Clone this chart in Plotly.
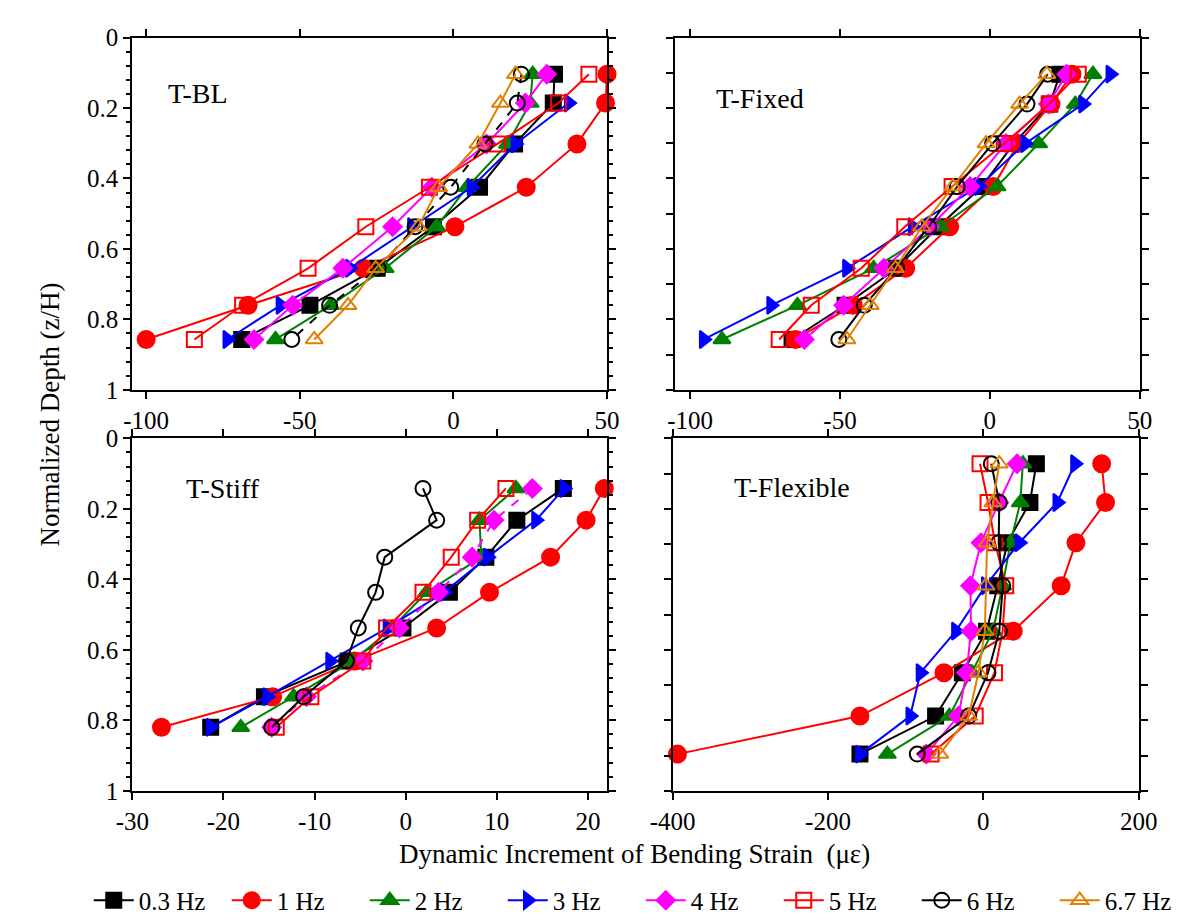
import plotly.graph_objects as go

# ---------------- data ----------------
freqs = ["0.3 Hz", "1 Hz", "2 Hz", "3 Hz", "4 Hz", "5 Hz", "6 Hz", "6.7 Hz"]

depth_bl = [0.104, 0.186, 0.302, 0.425, 0.537, 0.655, 0.760, 0.857]
depth_fixed = [0.104, 0.189, 0.301, 0.423, 0.537, 0.655, 0.760, 0.857]
depth_stiff = [0.142, 0.232, 0.337, 0.437, 0.538, 0.632, 0.733, 0.820]
depth_flex = [0.072, 0.182, 0.296, 0.418, 0.547, 0.665, 0.788, 0.896]

# T-BL
bl_03 = [32.9, 32.5, 19.9, 8.5, -6.5, -24.8, -46.7, -68.9]
bl_1 = [50.0, 49.5, 40.2, 23.7, 0.5, -29.3, -66.8, -100.0]
bl_2 = [25.8, 25.0, 17.6, 4.5, -5.5, -22.2, -40.0, -57.9]
bl_3 = [None, 37.5, 20.2, 5.9, -13.5, -33.7, -56.3, -73.6]
bl_4 = [30.4, 23.4, 10.8, -7.0, -19.8, -36.0, -52.3, -64.9]
bl_5 = [44.1, 34.2, 14.3, -7.8, -28.5, -47.3, -68.6, -84.3]
bl_6 = [22.1, 20.8, 10.3, -0.9, -12.5, -24.5, -40.3, -52.6]
bl_67 = [20.2, 15.3, 8.0, -4.8, -11.4, -25.3, -34.3, -45.3]

# T-Fixed
fx_03 = [23.4, 20.0, 8.0, -2.7, -17.2, -31.1, -48.3, -66.0]
fx_1 = [27.4, 20.4, 9.5, 1.1, -13.4, -28.1, -45.6, -64.9]
fx_2 = [34.4, 28.5, 16.3, 2.4, -16.6, -38.8, -64.2, -89.4]
fx_3 = [40.2, 31.1, 11.8, -3.7, -25.8, -47.7, -73.0, -95.5]
fx_4 = [25.6, 19.5, 5.4, -6.6, -20.0, -35.4, -48.8, -61.9]
fx_5 = [29.5, 19.8, 4.8, -12.6, -28.4, -42.9, -59.6, -70.3]
fx_6 = [19.3, 12.4, 0.9, -10.9, -20.4, -31.1, -41.9, -50.4]
fx_67 = [19.0, 9.9, -1.3, -12.3, -22.7, -31.5, -39.9, -47.7]

# T-Stiff
st_03 = [17.3, 12.2, 8.8, 4.8, -0.3, -6.3, -15.5, -21.4]
st_1 = [21.8, 19.8, 15.9, 9.2, 3.4, -5.6, -14.6, -26.8]
st_2 = [12.1, 8.1, 8.3, 2.3, -1.5, -5.8, -12.3, -18.1]
st_3 = [17.4, 14.3, 9.0, 4.2, -2.0, -8.3, -15.2, -21.4]
st_4 = [13.9, 9.7, 7.3, 3.6, -0.7, -4.7, -10.9, -14.7]
st_5 = [11.0, 7.9, 5.0, 1.9, -2.1, -4.7, -10.4, -14.2]
st_6 = [1.9, 3.4, -2.3, -3.3, -5.2, -6.5, -11.2, -14.7]
st_67 = None

# T-Flexible
fl_03 = [68.2, 59.9, 30.9, 18.5, 4.0, -27.1, -61.5, -158.9]
fl_1 = [152.3, 157.3, 119.2, 100.1, 38.4, -50.7, -158.9, -393.8]
fl_2 = [50.8, 47.5, 35.0, 24.7, 12.3, -14.7, -43.7, -123.6]
fl_3 = [117.9, 95.1, 46.2, 3.0, -35.4, -81.0, -94.2, -158.9]
fl_4 = [43.4, 20.0, -3.1, -16.7, -15.9, -21.7, -32.1, -73.5]
fl_5 = [-4.3, 6.0, 15.0, 28.8, 24.7, 14.3, -10.5, -67.3]
fl_6 = [10.2, 20.5, 19.7, 25.0, 20.5, 6.0, -18.8, -85.1]
fl_67 = [20.5, 12.3, 4.8, 3.2, 1.9, -6.4, -18.8, -56.1]

panels = [
    ("T-BL", depth_bl, [bl_03, bl_1, bl_2, bl_3, bl_4, bl_5, bl_6, bl_67], {6}),
    ("T-Fixed", depth_fixed, [fx_03, fx_1, fx_2, fx_3, fx_4, fx_5, fx_6, fx_67], set()),
    ("T-Stiff", depth_stiff, [st_03, st_1, st_2, st_3, st_4, st_5, st_6, st_67], {4}),
    ("T-Flexible", depth_flex, [fl_03, fl_1, fl_2, fl_3, fl_4, fl_5, fl_6, fl_67], set()),
]

# ---------------- styles ----------------
colors = ["#000000", "#FF0000", "#008000", "#0000FF", "#FF00FF", "#FF0000", "#000000", "#E08000"]
symbols = ["square", "circle", "triangle-up", "triangle-right", "diamond",
           "square-open", "circle-open", "triangle-up-open"]
msizes = [15, 17, 15, 15, 14, 15, 15, 15]

FONT = "Liberation Serif"
W, H = 1197, 921

fig = go.Figure()

axis_names = [("x", "y"), ("x2", "y2"), ("x3", "y3"), ("x4", "y4")]
for p, (label, depth, series, dashed) in enumerate(panels):
    xa, ya = axis_names[p]
    for i, vals in enumerate(series):
        if vals is None:
            continue
        fig.add_trace(go.Scatter(
            x=vals, y=depth, xaxis=xa, yaxis=ya,
            mode="lines+markers", name=freqs[i],
            legendgroup=freqs[i], showlegend=(p == 1),
            cliponaxis=False, connectgaps=False,
            line=dict(color=colors[i], width=2, dash="dash" if i in dashed else "solid"),
            marker=dict(symbol=symbols[i], size=msizes[i], color=colors[i],
                        line=dict(color=colors[i], width=2)),
        ))

# pixel domains
def xdom(a, b):
    return [a / W, b / W]

def ydom(top, bottom):
    return [1 - bottom / H, 1 - top / H]

tickfont = dict(family=FONT, size=25, color="black")

def xaxis_cfg(dom, anchor, rng, vals):
    return dict(domain=xdom(*dom), anchor=anchor, range=rng,
                tickmode="array", tickvals=vals, ticktext=[str(v) for v in vals],
                showline=True, linecolor="black", linewidth=2, mirror="allticks",
                ticks="outside", ticklen=7, tickwidth=1.5, tickcolor="black",
                showgrid=False, zeroline=False, tickfont=tickfont)

def yaxis_cfg(dom, anchor, labels):
    cfg = dict(domain=ydom(*dom), anchor=anchor, range=[1, 0],
               showline=True, linecolor="black", linewidth=2, mirror="allticks",
               ticks="outside", tickwidth=1.5, tickcolor="black",
               showgrid=False, zeroline=False, tickfont=tickfont)
    if labels:
        cfg.update(tickmode="array", tickvals=[0, 0.2, 0.4, 0.6, 0.8, 1],
                   ticktext=["0", "0.2", "0.4", "0.6", "0.8", "1"], ticklen=7,
                   minor=dict(dtick=0.04, ticklen=4, tickwidth=1.5, tickcolor="black",
                              ticks="outside"))
    else:
        cfg.update(dtick=0.1, tick0=0, ticklen=7, showticklabels=False)
    return cfg

fig.update_layout(
    width=W, height=H,
    margin=dict(l=0, r=0, t=0, b=0),
    paper_bgcolor="white", plot_bgcolor="white",
    font=dict(family=FONT, size=25, color="black"),
    xaxis=xaxis_cfg((105, 597), "y", [-104.5, 50], [-100, -50, 0, 50]),
    yaxis=yaxis_cfg((17, 380), "x", True),
    xaxis2=xaxis_cfg((667, 1149), "y2", [-105.2, 50], [-100, -50, 0, 50]),
    yaxis2=yaxis_cfg((17, 380), "x2", False),
    xaxis3=xaxis_cfg((105, 597), "y3", [-30, 22.1], [-30, -20, -10, 0, 10, 20]),
    yaxis3=yaxis_cfg((430, 793), "x3", True),
    xaxis4=xaxis_cfg((665, 1148), "y4", [-400, 200], [-400, -200, 0, 200]),
    yaxis4=yaxis_cfg((430, 793), "x4", False),
    legend=dict(orientation="h", x=0.05, y=1 - 906 / H, xanchor="left", yanchor="middle",
                font=dict(family=FONT, size=25), entrywidth=83, entrywidthmode="pixels",
                tracegroupgap=0, itemwidth=40, bgcolor="rgba(0,0,0,0)"),
    showlegend=True,
)

# panel labels
label_pos = [(0.071, 0.84), (0.085, 0.826), (0.108, 0.857), (0.128, 0.862)]
for p, (label, *_rest) in enumerate(panels):
    xa, ya = axis_names[p]
    fig.add_annotation(text=label, xref=f"{xa} domain", yref=f"{ya} domain",
                       x=label_pos[p][0], y=label_pos[p][1], xanchor="left", yanchor="middle",
                       showarrow=False, font=dict(family=FONT, size=28, color="black"))

# axis titles
fig.add_annotation(text="Dynamic Increment of Bending Strain  (\u03bc\u03b5)", xref="paper", yref="paper",
                   x=625 / W, y=1 - 858 / H, xanchor="center", yanchor="middle", showarrow=False,
                   font=dict(family=FONT, size=27, color="black"))
fig.add_annotation(text="Normalized Depth (z/H)", xref="paper", yref="paper",
                   x=20 / W, y=1 - 405 / H, xanchor="center", yanchor="middle", showarrow=False,
                   textangle=-90, font=dict(family=FONT, size=27, color="black"))

fig.write_html("out.html")
